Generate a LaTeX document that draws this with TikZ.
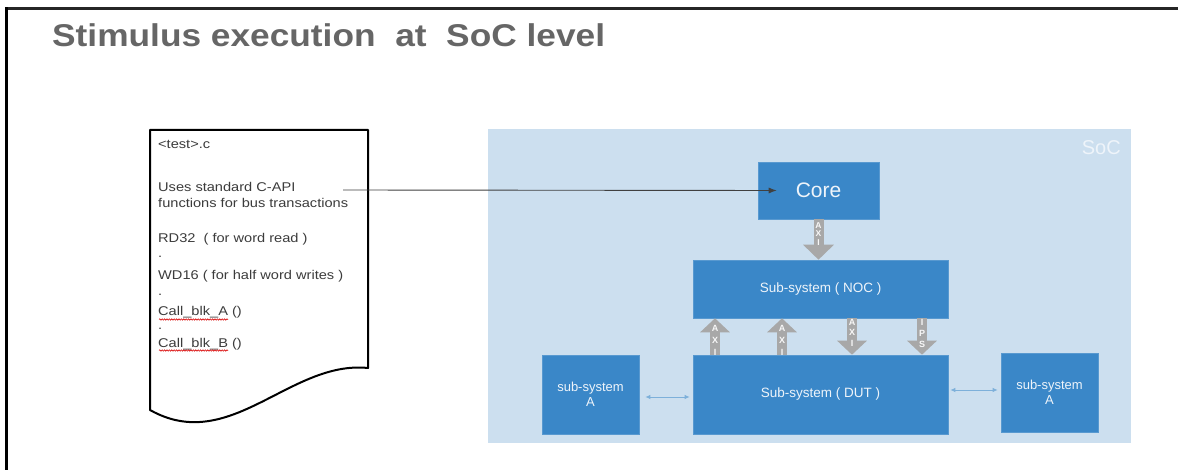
\documentclass[tikz,border=0pt]{standalone}
\usepackage{fontspec}
\setmainfont{Liberation Sans}
\newfontfamily\titlefont{Liberation Sans}[FakeStretch=1.12]
\newfontfamily\notefont{Liberation Sans}[FakeStretch=1.15]
\usetikzlibrary{arrows.meta,decorations.pathmorphing}

\definecolor{socbg}{HTML}{CCDFEF}
\definecolor{blk}{HTML}{3A87C8}
\definecolor{busgray}{HTML}{A8A8A8}
\definecolor{linkblue}{HTML}{7DB0DA}
\definecolor{titlegray}{HTML}{666666}
\definecolor{notegray}{HTML}{3C3C3C}
\definecolor{boxtext}{HTML}{EEF4FA}

\tikzset{
  block/.style={fill=blk, draw=blk!85!white, line width=0.6pt, text=boxtext,
    inner sep=0pt, align=center},
  noteline/.style={anchor=base west, inner sep=0pt, text=notegray,
    font=\notefont\fontsize{12.7}{15}\selectfont},
  bus/.style={draw=busgray, line width=10pt, line cap=butt,
    -{Triangle[width=29pt,length=14pt]}},
  buslabel/.style={text=white!92!busgray, inner sep=0pt, align=center},
  biarrow/.style={draw=linkblue, line width=0.9pt,
    {Latex[length=5pt,width=4.5pt]}-{Latex[length=5pt,width=4.5pt]}},
  spell/.style={draw=red!85!black, line width=0.6pt,
    decorate, decoration={snake, amplitude=0.7pt, segment length=2.4pt}}
}

\begin{document}
\begin{tikzpicture}[x=1pt, y=-1pt]
\useasboundingbox (0,0) rectangle (1178,470);
\fill[white] (0,0) rectangle (1178,470);

% frame rules
\draw[draw=black!85, line width=2.4pt] (5,8.5) -- (1178,8.5);
\draw[draw=black, line width=2.2pt] (6.5,7.5) -- (6.5,470);

% title
\node[anchor=base west, inner sep=0pt, text=titlegray,
  font=\titlefont\bfseries\fontsize{31.5}{36}\selectfont] (title) at (52,47)
  {Stimulus execution\ \ at\ \ SoC level};

% test source page
\draw[line width=2pt, line join=round, fill=white]
  (150,130) -- (368,130) -- (368,368)
  .. controls (290,360) and (230,455) .. (150,410) -- cycle;

\node[noteline] (fname) at (158,149) {<test>.c};
\node[noteline] (uses1) at (158,192) {Uses standard C-API};
\node[noteline] (uses2) at (158,208) {functions for bus transactions};
\node[noteline] (rd) at (158,243) {RD32\ \ ( for word read )};
\node[noteline] (dot1) at (158,258) {.};
\node[noteline] (wd) at (158,280) {WD16 ( for half word writes )};
\node[noteline] (dot2) at (158,296) {.};
\node[noteline] (cba) at (158,316) {Call\_blk\_A ()};
\node[noteline] (dot3) at (158,330) {.};
\node[noteline] (cbb) at (158,347) {Call\_blk\_B ()};
\draw[spell] (159,319.5) -- (228,319.5);
\draw[spell] (159,350.5) -- (228,350.5);

% SoC area
\fill[socbg] (488,129) rectangle (1131,443);
\node[anchor=east, inner sep=0pt, text=boxtext,
  font=\fontsize{20}{24}\selectfont] (soc) at (1121,148) {SoC};

% blocks
\node[block, minimum width=121pt, minimum height=57pt,
  font=\fontsize{21}{25}\selectfont] (core) at (818.5,190.5) {Core};
\node[block, minimum width=255pt, minimum height=58pt,
  font=\fontsize{13.5}{16}\selectfont] (noc) at (820.5,289) {Sub-system ( NOC )};
\node[block, minimum width=255pt, minimum height=79pt,
  font=\fontsize{13.5}{16}\selectfont] (dut) at (820.5,394.5) {Sub-system ( DUT )};
\node[block, minimum width=97pt, minimum height=79pt,
  font=\fontsize{13}{15}\selectfont] (suba) at (590.5,394.5) {sub-system\\A};
\node[block, minimum width=97pt, minimum height=79pt,
  font=\fontsize{13}{15}\selectfont] (subb) at (1049.5,392.5) {sub-system\\A};

% call into the core
\coordinate (apiout) at (343,190);
\draw[draw=black!75, line width=0.9pt, -{Latex[length=8pt,width=6pt]}]
  (apiout) -- ([xshift=19pt]core.west);

% bus connections
\coordinate (b1) at (715,0);
\coordinate (b2) at (782,0);
\coordinate (b3) at (852,0);
\coordinate (b4) at (922,0);

\draw[bus, -{Triangle[width=30pt,length=15pt]}] (core.south) -- (core.south |- noc.north)
  node[buslabel, pos=0.36, font=\bfseries\fontsize{8.5}{8.4}\selectfont] {A\\X\\I};
\draw[bus] (dut.north -| b1) -- (noc.south -| b1)
  node[buslabel, pos=0.4, font=\bfseries\fontsize{9}{12}\selectfont] {A\\X\\I};
\draw[bus] (dut.north -| b2) -- (noc.south -| b2)
  node[buslabel, pos=0.4, font=\bfseries\fontsize{9}{12}\selectfont] {A\\X\\I};
\draw[bus] (noc.south -| b3) -- (dut.north -| b3)
  node[buslabel, pos=0.4, font=\bfseries\fontsize{9}{10.5}\selectfont] {A\\X\\I};
\draw[bus] (noc.south -| b4) -- (dut.north -| b4)
  node[buslabel, pos=0.42, font=\bfseries\fontsize{9}{11}\selectfont] {I\\P\\S};

% side links
\draw[biarrow] ([xshift=6pt,yshift=-2.5pt]suba.east) -- ([xshift=-3pt,yshift=-2.5pt]suba.east -| dut.west);
\draw[biarrow] ([xshift=2pt,yshift=4.5pt]dut.east) -- ([xshift=-3pt,yshift=4.5pt]dut.east -| subb.west);
\end{tikzpicture}
\end{document}
